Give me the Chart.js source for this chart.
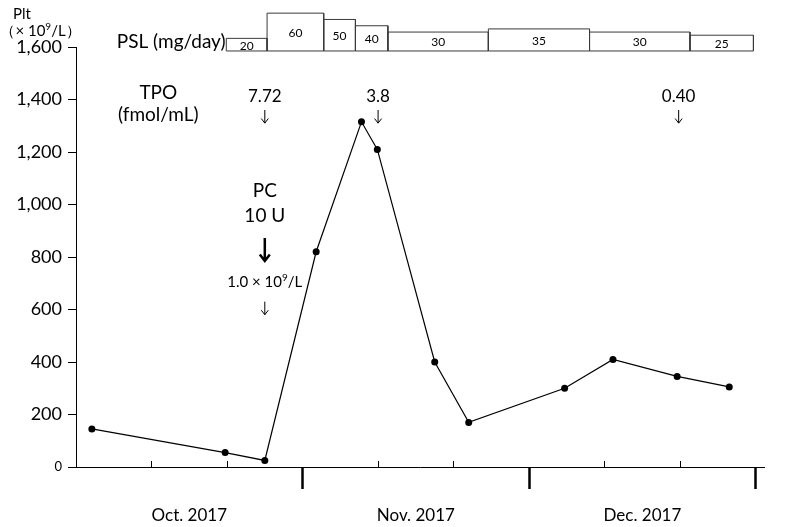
<!DOCTYPE html>
<html>
<head>
<meta charset="utf-8">
<script src="https://cdn.jsdelivr.net/npm/chart.js@4.4.1/dist/chart.umd.min.js"></script>
<style>
  html, body { margin: 0; padding: 0; background: #fff; }
  #wrap { width: 787px; height: 527px; }
</style>
</head>
<body>
<div id="wrap"><canvas id="plt-chart"></canvas></div>
<script>
// x is in days from Oct 1 on the drawn axis (each month = 30 units)
const sampleDays = [2.1, 19.75, 25, 31.8, 37.8, 39.9, 47.5, 52, 64.7, 71.1, 79.6, 86.5];
const pltValues = [145, 55, 25, 820, 1315, 1210, 400, 170, 300, 410, 345, 305];

// PSL dose blocks: edges along x, dose for each block
const pslEdges = [19.9, 25.3, 32.8, 37.0, 41.3, 54.6, 68.0, 81.3, 89.7];
const pslDose = [20, 60, 50, 40, 30, 35, 30, 25];

// TPO measurements
const tpoDays = [25, 40, 79.8];
const tpoLabels = ['7.72', '3.8', '0.40'];

const monthDays = [15, 45, 75];
const monthLabels = ['Oct. 2017', 'Nov. 2017', 'Dec. 2017'];
const monthBounds = [30, 60, 90];
const minorDays = [10, 20, 40, 50, 70, 80];

const FONT = 'Lato, "Noto Sans", sans-serif';

// rectangles of the PSL strip, traced as one line with gaps
const pslPath = [];
pslDose.forEach(function (d, i) {
    const s = pslEdges[i], e = pslEdges[i + 1];
    pslPath.push({x: s, y: 0}, {x: s, y: d}, {x: e, y: d}, {x: e, y: 0}, {x: s, y: 0}, {x: e, y: NaN});
});

// text notes; parts marked sup are drawn raised and smaller
const notes = [
    {parts: ['Plt'], x: -7.15, y: 1724, size: 15},
    {parts: ['（× 10', {sup: '9'}, '/L）'], x: -4.7, y: 1661, size: 15},
    {parts: ['PSL (mg/day)'], x: 12.6, y: 1619, size: 19},
    {parts: ['TPO'], x: 10.9, y: 1425, size: 19},
    {parts: ['(fmol/mL)'], x: 10.9, y: 1341, size: 19},
    {parts: ['PC'], x: 25, y: 1051, size: 19},
    {parts: ['10 U'], x: 25, y: 956, size: 19},
    {parts: ['1.0 × 10', {sup: '9'}, '/L'], x: 25, y: 703, size: 15},
];
tpoDays.forEach(function (d, i) {
    notes.push({parts: [tpoLabels[i]], x: d, y: 1410, size: 17});
});

function drawRich(ctx, parts, cx, cy, size) {
    const supSize = Math.round(size * 0.68);
    let total = 0;
    const widths = parts.map(function (p) {
        ctx.font = (typeof p === 'string' ? size : supSize) + 'px ' + FONT;
        const w = ctx.measureText(typeof p === 'string' ? p : p.sup).width;
        total += w;
        return w;
    });
    let px = cx - total / 2;
    ctx.textAlign = 'left';
    parts.forEach(function (p, i) {
        if (typeof p === 'string') {
            ctx.font = size + 'px ' + FONT;
            ctx.fillText(p, px, cy);
        } else {
            ctx.font = supSize + 'px ' + FONT;
            ctx.fillText(p.sup, px, cy - size * 0.3);
        }
        px += widths[i];
    });
}

function arrow(ctx, x, y1, y2, width, head) {
    ctx.save();
    ctx.strokeStyle = '#000';
    ctx.lineWidth = width;
    ctx.beginPath();
    ctx.moveTo(x, y1);
    ctx.lineTo(x, y2);
    ctx.moveTo(x - head, y2 - head * 1.3);
    ctx.lineTo(x, y2);
    ctx.lineTo(x + head, y2 - head * 1.3);
    ctx.stroke();
    ctx.restore();
}

const notesPlugin = {
    id: 'notes',
    afterDatasetsDraw(chart) {
        const ctx = chart.ctx;
        const x = chart.scales.x, y = chart.scales.y, yp = chart.scales.yp;
        ctx.save();
        ctx.fillStyle = '#000';
        ctx.textBaseline = 'middle';
        notes.forEach(function (n) {
            drawRich(ctx, n.parts, x.getPixelForValue(n.x), y.getPixelForValue(n.y), n.size);
        });
        // dose numbers inside blocks
        ctx.textAlign = 'center';
        ctx.font = '12px ' + FONT;
        pslDose.forEach(function (d, i) {
            const mid = (pslEdges[i] + pslEdges[i + 1]) / 2;
            ctx.fillText(String(d), x.getPixelForValue(mid), yp.getPixelForValue(d / 2) + 1);
        });
        ctx.restore();

        tpoDays.forEach(function (d) {
            arrow(ctx, x.getPixelForValue(d), y.getPixelForValue(1360), y.getPixelForValue(1310), 1, 3.5);
        });
        arrow(ctx, x.getPixelForValue(25), y.getPixelForValue(630), y.getPixelForValue(580), 1, 3.5);
        arrow(ctx, x.getPixelForValue(25), y.getPixelForValue(872), y.getPixelForValue(785), 2.5, 5);
    }
};

new Chart(document.getElementById('plt-chart'), {
    type: 'line',
    data: {
        datasets: [
            {
                label: 'Plt',
                data: sampleDays.map(function (d, i) { return {x: d, y: pltValues[i]}; }),
                borderColor: '#000',
                borderWidth: 1.2,
                backgroundColor: '#000',
                pointRadius: 3.5,
                pointBorderWidth: 0,
                tension: 0,
                fill: false,
                xAxisID: 'x',
                yAxisID: 'y',
            },
            {
                label: 'PSL',
                data: pslPath,
                borderColor: '#3a3a3a',
                borderWidth: 1,
                pointRadius: 0,
                spanGaps: false,
                tension: 0,
                fill: false,
                clip: false,
                xAxisID: 'x',
                yAxisID: 'yp',
            },
        ],
    },
    options: {
        responsive: true,
        maintainAspectRatio: false,
        animation: false,
        layout: {
            padding: {top: 47, right: 23, bottom: 2, left: 0}
        },
        plugins: {
            legend: { display: false },
            tooltip: { enabled: false },
        },
        scales: {
            x: {
                type: 'linear',
                min: 0,
                max: 91.1,
                afterBuildTicks: function (scale) {
                    scale.ticks = monthDays.concat(monthBounds).sort(function (a, b) { return a - b; })
                        .map(function (v) { return {value: v}; });
                },
                afterFit: function (scale) { scale.height = 58; },
                ticks: {
                    autoSkip: false,
                    maxRotation: 0,
                    padding: 16,
                    color: '#000',
                    font: {family: FONT, size: 17},
                    callback: function (value) {
                        const i = monthDays.indexOf(value);
                        return i >= 0 ? monthLabels[i] : '';
                    },
                },
                grid: {
                    drawOnChartArea: false,
                    tickLength: 22,
                    tickColor: function (c) {
                        return monthBounds.indexOf(c.tick.value) >= 0 ? '#000' : 'rgba(0,0,0,0)';
                    },
                    tickWidth: 2.5,
                },
                border: { display: true, color: '#000', width: 1 },
            },
            xm: {
                type: 'linear',
                position: {y: 0},
                min: 0,
                max: 91.1,
                afterBuildTicks: function (scale) {
                    scale.ticks = minorDays.map(function (v) { return {value: v}; });
                },
                ticks: { display: false },
                grid: {
                    drawOnChartArea: false,
                    tickLength: -6,
                    tickColor: '#000',
                    tickWidth: 1,
                },
                border: { display: false },
            },
            y: {
                min: 0,
                max: 1600,
                ticks: {
                    stepSize: 200,
                    padding: 6,
                    color: '#000',
                    font: function (c) {
                        return {family: FONT, size: c.tick && c.tick.value === 0 ? 13 : 18};
                    },
                },
                afterFit: function (scale) { scale.width = 76; },
                grid: {
                    drawOnChartArea: false,
                    tickLength: 8,
                    tickColor: '#000',
                },
                border: { display: true, color: '#000', width: 1 },
            },
            yp: {
                display: false,
                min: -660,
                max: 6.3,
            },
        },
    },
    plugins: [notesPlugin],
});
</script>
</body>
</html>
